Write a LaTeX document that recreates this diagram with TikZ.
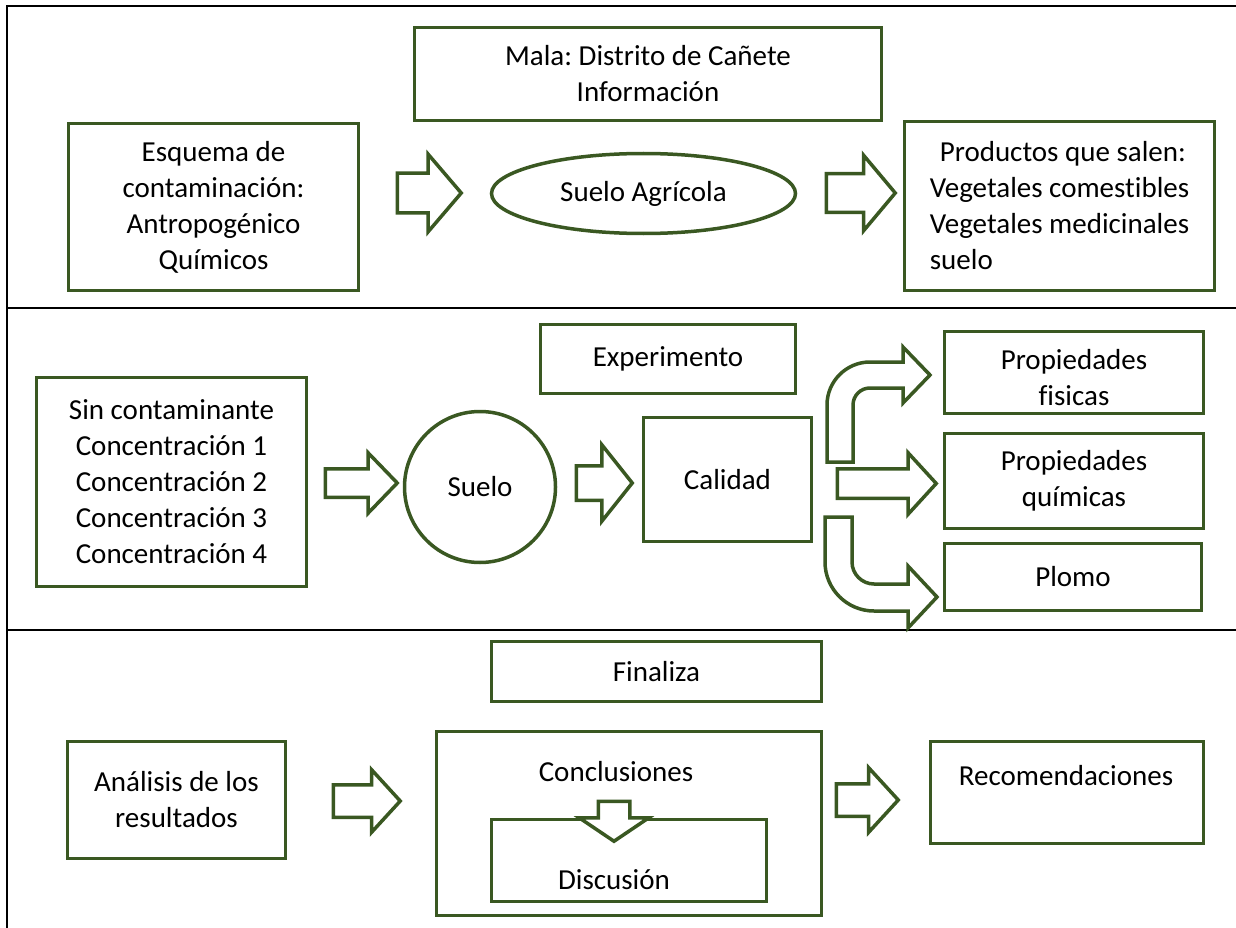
\documentclass[tikz,border=0pt]{standalone}
\usepackage{fontspec}
\setmainfont{Carlito}[Ligatures=NoCommon]
\usetikzlibrary{shapes.geometric,shapes.arrows}
\definecolor{verde}{RGB}{58,88,34}
\newcommand{\letra}{\fontsize{29}{36}\selectfont}
\frenchspacing

\begin{document}
\begin{tikzpicture}[x=1pt,y=-1pt,font=\letra,
    caja/.style={draw=verde,line width=3.5pt,align=center,inner sep=0pt},
    flecha/.style={single arrow,draw=verde,fill=white,line width=3.5pt,inner sep=0pt,text depth=0pt,line join=miter,anchor=tail},
    curva/.style={draw=verde,line width=3.5pt,line join=miter}]
    \useasboundingbox (0,0) rectangle (1236,928);
    % marco de la tabla
    \draw[line width=2pt] (1236,6) -- (7,6) -- (7,928);
    \draw[line width=2pt] (7,308) -- (1236,308);
    \draw[line width=2pt] (7,630) -- (1236,630);
    % fila 1
    \node[caja,minimum width=467pt,minimum height=93pt] (mala) at (648,74) {Mala: Distrito de Cañete\\Información};
    \node[caja,minimum width=290pt,minimum height=167pt] (esquema) at (213.5,207) {Esquema de\\contaminación:\\Antropogénico\\Químicos};
    \node[caja,ellipse,minimum width=304pt,minimum height=80pt] (sueloagr) at (643.5,193.5) {Suelo Agrícola};
    \node[caja,align=left,minimum width=310pt,minimum height=169pt] (productos) at (1059.5,206) {\hspace*{10pt}Productos que salen:\\Vegetales comestibles\\Vegetales medicinales\\suelo};
    \node[flecha,minimum height=64pt,text height=36pt,single arrow head extend=19pt,single arrow tip angle=99] (f1) at (395.5,193) {};
    \node[flecha,minimum height=69pt,text height=35pt,single arrow head extend=18.5pt,single arrow tip angle=100] (f2) at (824.5,193) {};
    % fila 2
    \node[caja,minimum width=255pt,minimum height=69pt] (exper) at (668,359) {Experimento};
    \node[caja,minimum width=270pt,minimum height=209pt] (sincont) at (171.5,482) {Sin contaminante\\Concentración 1\\Concentración 2\\Concentración 3\\Concentración 4};
    \node[caja,circle,minimum size=151pt] (suelo) at (480,487) {Suelo};
    \node[caja,minimum width=168pt,minimum height=124pt] (calidad) at (727.5,479.5) {Calidad};
    \node[caja,minimum width=259pt,minimum height=82pt] (fisicas) at (1074,372.5) {\rule{0pt}{30pt}Propiedades\\fisicas};
    \node[caja,minimum width=259pt,minimum height=95pt] (quimicas) at (1074,481) {Propiedades\\químicas};
    \node[caja,minimum width=257pt,minimum height=67pt] (plomo) at (1073,577) {Plomo};
    \node[flecha,minimum height=72pt,text height=25pt,single arrow head extend=16pt,single arrow tip angle=92] (f3) at (323.5,483) {};
    \node[flecha,minimum height=56pt,text height=31pt,single arrow head extend=21pt,single arrow tip angle=103] (f4) at (574.5,483) {};
    \node[flecha,minimum height=99pt,text height=26pt,single arrow head extend=16pt,single arrow tip angle=95] (f5) at (835.5,483.5) {};
    % flechas curvas hacia fisicas y plomo
    \draw[curva] (827,462) -- (827,405) .. controls (827,381.3) and (846.3,362) .. (870,362) -- (903,362) -- (903,347) -- (930,375) -- (903,403) -- (903,388) -- (870,388) .. controls (860.6,388) and (853,395.6) .. (853,405) -- (853,462) -- cycle;
    \draw[curva] (825,517) -- (825,562) .. controls (825,589) and (847,611) .. (874,611) -- (908,611) -- (908,628) -- (937,597) -- (908,566) -- (908,584) -- (874,584) .. controls (861.9,584) and (852,574.1) .. (852,562) -- (852,517) -- cycle;
    % fila 3
    \node[caja,minimum width=330pt,minimum height=60pt] (finaliza) at (656.5,671.5) {Finaliza};
    \node[caja,minimum width=218pt,minimum height=117pt] (analisis) at (176.5,800) {Análisis de los\\resultados};
    \node[caja,minimum width=385pt,minimum height=184pt] (concl) at (629,823.5) {};
    \node (conclt) at (616,772) {Conclusiones};
    \node[caja,minimum width=275pt,minimum height=82pt] (disc) at (629,860.5) {};
    \node (disct) at (614,880) {Discusión};
    \node[caja,minimum width=273pt,minimum height=102pt] (recom) at (1067,792.5) {};
    \node (recomt) at (1066,776) {Recomendaciones};
    \node[flecha,minimum height=67pt,text height=29pt,single arrow head extend=15pt,single arrow tip angle=95] (f6) at (331.5,801) {};
    \node[flecha,minimum height=62pt,text height=29pt,single arrow head extend=16pt,single arrow tip angle=95] (f7) at (834.5,800) {};
    \node[flecha,minimum height=40pt,text height=28pt,single arrow head extend=19pt,single arrow tip angle=112,rotate=-90] (f8) at (614,799.5) {};
\end{tikzpicture}
\end{document}
